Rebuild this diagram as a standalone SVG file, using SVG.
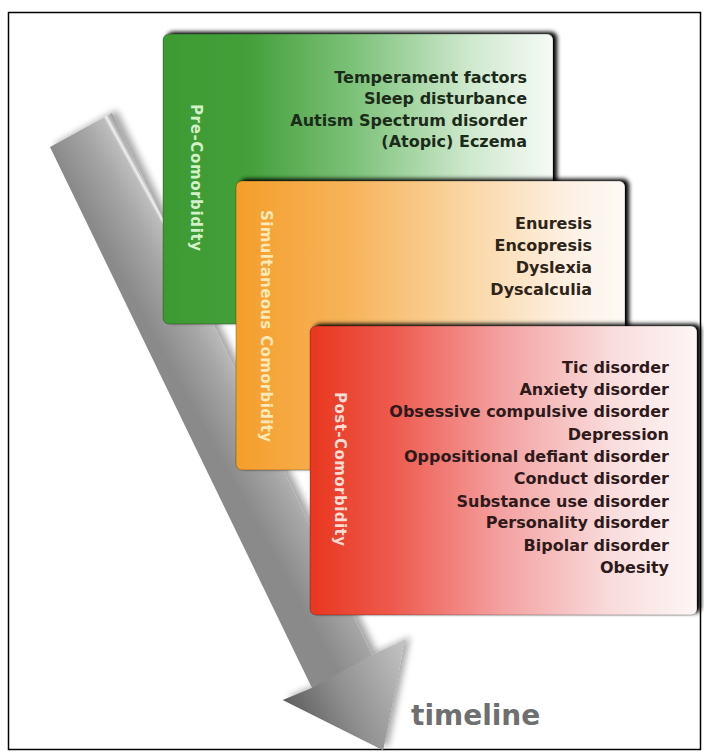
<svg xmlns="http://www.w3.org/2000/svg" width="704" height="753" viewBox="0 0 704 753">
  <style>
    .item { font-family: "DejaVu Sans", "Liberation Sans", sans-serif; font-size: 16px; font-weight: bold; text-anchor: end; }
    .side { font-family: "DejaVu Sans", "Liberation Sans", sans-serif; font-size: 15px; font-weight: bold; }
    .card { stroke: rgba(0,0,0,0.25); stroke-width: 1; }
  </style>
  <defs>
    <linearGradient id="gPre" x1="0" y1="0" x2="1" y2="0">
      <stop offset="0" stop-color="#3d9a32"/>
      <stop offset="0.22" stop-color="#44a03a"/>
      <stop offset="0.5" stop-color="#7fc37c"/>
      <stop offset="0.78" stop-color="#cde8cc"/>
      <stop offset="1" stop-color="#f6faf6"/>
    </linearGradient>
    <linearGradient id="gSim" x1="0" y1="0" x2="1" y2="0">
      <stop offset="0" stop-color="#f59e2a"/>
      <stop offset="0.3" stop-color="#f7b45c"/>
      <stop offset="0.6" stop-color="#fad7a6"/>
      <stop offset="0.85" stop-color="#fdf0e2"/>
      <stop offset="1" stop-color="#fdfaf6"/>
    </linearGradient>
    <linearGradient id="gPost" x1="0" y1="0" x2="1" y2="0">
      <stop offset="0" stop-color="#e8361f"/>
      <stop offset="0.22" stop-color="#ee5b4f"/>
      <stop offset="0.5" stop-color="#f4a2a2"/>
      <stop offset="0.78" stop-color="#f9dcdc"/>
      <stop offset="1" stop-color="#fdf6f6"/>
    </linearGradient>
    <!-- shading across the width of the timeline bar -->
    <linearGradient id="gBar" gradientUnits="userSpaceOnUse" x1="50" y1="147" x2="112" y2="113">
      <stop offset="0" stop-color="#8a8a8a"/>
      <stop offset="0.55" stop-color="#a6a6a6"/>
      <stop offset="0.86" stop-color="#bdbdbd"/>
      <stop offset="0.9" stop-color="#f0f0f0"/>
      <stop offset="0.94" stop-color="#b8b8b8"/>
      <stop offset="1" stop-color="#9a9a9a"/>
    </linearGradient>
    <linearGradient id="gHead" gradientUnits="userSpaceOnUse" x1="283" y1="700" x2="405" y2="640">
      <stop offset="0" stop-color="#5e5e5e"/>
      <stop offset="0.4" stop-color="#8e8e8e"/>
      <stop offset="1" stop-color="#c4c4c4"/>
    </linearGradient>
    <filter id="cardShadow" x="-5%" y="-10%" width="115%" height="120%">
      <feGaussianBlur in="SourceAlpha" stdDeviation="2"/>
      <feOffset dx="4" dy="-2"/>
      <feComponentTransfer><feFuncA type="linear" slope="1"/></feComponentTransfer>
      <feMerge><feMergeNode/><feMergeNode in="SourceGraphic"/></feMerge>
    </filter>
    <filter id="barShadow" x="-20%" y="-10%" width="140%" height="120%">
      <feGaussianBlur in="SourceAlpha" stdDeviation="3.5"/>
      <feOffset dx="5" dy="-3"/>
      <feComponentTransfer><feFuncA type="linear" slope="0.35"/></feComponentTransfer>
      <feMerge><feMergeNode/><feMergeNode in="SourceGraphic"/></feMerge>
    </filter>
  </defs>

  <rect x="0" y="0" width="704" height="753" fill="#ffffff"/>
  <!-- outer frame -->
  <rect x="8.5" y="12.5" width="692" height="737" fill="none" stroke="#000" stroke-width="1.5"/>

  <!-- timeline arrow -->
  <g id="connectors">
    <g id="timeline-arrow" filter="url(#barShadow)">
      <polygon points="50,147 112,113 372,655 405,640 383,750 283,700 312,688" fill="url(#gBar)"/>
      <polygon points="312,688 372,655 405,640 383,750 283,700" fill="url(#gHead)"/>
    </g>
  </g>

  <!-- Pre-Comorbidity card -->
  <g id="pre-comorbidity">
    <rect class="card" x="163" y="34" width="390" height="290" rx="6" fill="url(#gPre)" filter="url(#cardShadow)"/>
    <text class="side" transform="translate(191,104) rotate(90)" fill="#d4f0c8" textLength="147" lengthAdjust="spacing">Pre-Comorbidity</text>
    <g class="item" fill="#1c2a1a">
      <text x="527" y="83">Temperament factors</text>
      <text x="527" y="104">Sleep disturbance</text>
      <text x="527" y="126">Autism Spectrum disorder</text>
      <text x="527" y="147">(Atopic) Eczema</text>
    </g>
  </g>

  <!-- Simultaneous Comorbidity card -->
  <g id="simultaneous-comorbidity">
    <rect class="card" x="236" y="181" width="389" height="289" rx="6" fill="url(#gSim)" filter="url(#cardShadow)"/>
    <text class="side" transform="translate(261,210) rotate(90)" fill="#fde8b8" textLength="232" lengthAdjust="spacing">Simultaneous Comorbidity</text>
    <g class="item" fill="#2e2418">
      <text x="592" y="229">Enuresis</text>
      <text x="592" y="251">Encopresis</text>
      <text x="592" y="273">Dyslexia</text>
      <text x="592" y="295">Dyscalculia</text>
    </g>
  </g>

  <!-- Post-Comorbidity card -->
  <g id="post-comorbidity">
    <rect class="card" x="310" y="326" width="387" height="289" rx="6" fill="url(#gPost)" filter="url(#cardShadow)"/>
    <text class="side" transform="translate(335,392) rotate(90)" fill="#fddcd2" textLength="154" lengthAdjust="spacing">Post-Comorbidity</text>
    <g class="item" fill="#2e1a1a">
      <text x="669" y="373">Tic disorder</text>
      <text x="669" y="395">Anxiety disorder</text>
      <text x="669" y="417">Obsessive compulsive disorder</text>
      <text x="669" y="440">Depression</text>
      <text x="669" y="462">Oppositional defiant disorder</text>
      <text x="669" y="484">Conduct disorder</text>
      <text x="669" y="507">Substance use disorder</text>
      <text x="669" y="528">Personality disorder</text>
      <text x="669" y="551">Bipolar disorder</text>
      <text x="669" y="573">Obesity</text>
    </g>
  </g>

  <!-- axis label -->
  <g id="timeline-label">
    <text x="411" y="725" font-family="DejaVu Sans, Liberation Sans, sans-serif" font-size="28" font-weight="bold" fill="#6f6f6f">timeline</text>
  </g>
</svg>
